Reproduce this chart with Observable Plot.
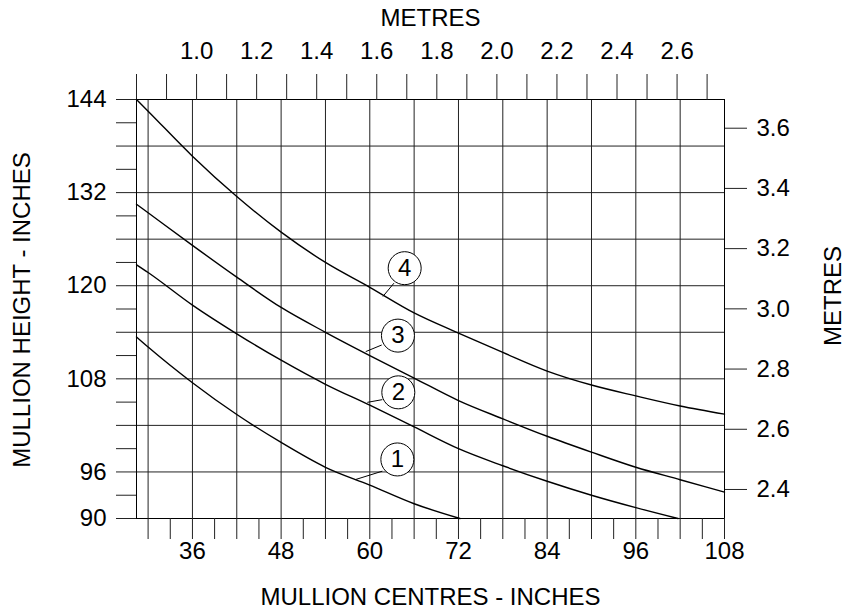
<!DOCTYPE html>
<html>
<head>
<meta charset="utf-8">
<script src="https://cdn.jsdelivr.net/npm/d3@7"></script>
<script src="https://cdn.jsdelivr.net/npm/@observablehq/plot@0.6"></script>
<style>
  html, body { margin: 0; padding: 0; background: #fff; }
  svg { font-family: "Liberation Sans", Arial, sans-serif; }
</style>
</head>
<body>
<div id="chart"></div>
<script>
// ---- data ----
const curve1X = [28.43, 30, 36, 42, 48, 54, 60, 66, 72.2];
const curve1Y = [113.4, 112.1, 107.5, 103.4, 99.8, 96.6, 94.3, 91.9, 90];
const curve2X = [28.43, 30, 36, 42, 48, 54, 60, 66, 72, 78, 84, 90, 96, 101.7];
const curve2Y = [122.7, 121.7, 117.5, 113.8, 110.4, 107.3, 104.6, 101.8, 99.0, 96.8, 94.8, 93.0, 91.4, 90];
const curve3X = [28.43, 30, 36, 42, 48, 54, 60, 66, 72, 78, 84, 90, 96, 102, 108];
const curve3Y = [130.5, 129.4, 125.2, 121.1, 117.2, 114.0, 111.0, 108.1, 105.2, 102.85, 100.6, 98.55, 96.6, 95.0, 93.4];
const curve4X = [28.43, 30, 36, 42, 48, 54, 60, 66, 72, 78, 84, 90, 96, 102, 108];
const curve4Y = [144, 142.5, 136.7, 131.5, 126.9, 123.0, 119.8, 116.5, 113.9, 111.4, 109.0, 107.2, 105.8, 104.5, 103.45];

const curveNames = ["1", "2", "3", "4"];
// label bubble centre and leader line (data coordinates)
const bubbleX = [63.73, 63.86, 63.81, 64.72];
const bubbleY = [97.61, 106.26, 113.57, 122.26];
const leaderX1 = [61.7, 61.7, 61.61, 63.27];
const leaderY1 = [96.1, 105.32, 112.36, 120.33];
const leaderX2 = [58.0, 59.67, 59.45, 61.78];
const leaderY2 = [95.0, 104.97, 111.51, 118.62];

// axes
const xDomain = [28.43, 108];
const yDomain = [90, 144];
const bottomTicks = d3.range(30, 108.1, 3);
const bottomLabels = [36, 48, 60, 72, 84, 96, 108];
const xGrid = d3.range(30, 108.1, 6);
const leftTicks = d3.range(90, 144.1, 3);
const leftLabels = [144, 132, 120, 108, 96, 90];
const yGrid = d3.range(90, 144.1, 6);
const topMetreTicks = d3.range(8, 27.1, 1).map(d => d / 10);
const topMetreLabels = [1.0, 1.2, 1.4, 1.6, 1.8, 2.0, 2.2, 2.4, 2.6];
const rightMetreLabels = [2.4, 2.6, 2.8, 3.0, 3.2, 3.4, 3.6];

// metre scales as drawn in the picture (mapped onto inch positions)
const topM0 = 0.8, topIn0 = 28.43, topInPerM = 40.64;
const rightM0 = 2.4, rightIn0 = 93.74, rightInPerM = 38.8;
const topToIn = m => topIn0 + (m - topM0) * topInPerM;
const rightToIn = m => rightIn0 + (m - rightM0) * rightInPerM;

const curves = [
  curve1X.map((x, i) => ({x, y: curve1Y[i], c: "1"})),
  curve2X.map((x, i) => ({x, y: curve2Y[i], c: "2"})),
  curve3X.map((x, i) => ({x, y: curve3Y[i], c: "3"})),
  curve4X.map((x, i) => ({x, y: curve4Y[i], c: "4"}))
].flat();

const bubbles = curveNames.map((n, i) => ({
  n, x: bubbleX[i], y: bubbleY[i],
  x1: leaderX1[i], y1: leaderY1[i], x2: leaderX2[i], y2: leaderY2[i]
}));

const FS = 24;
const ink = "#000";
const mid = {lineAnchor: "middle"};

const chart = Plot.plot({
  width: 859,
  height: 614,
  marginLeft: 136,
  marginRight: 135,
  marginTop: 99,
  marginBottom: 96,
  x: {domain: xDomain},
  y: {domain: yDomain},
  style: {fontFamily: "'Liberation Sans', Arial, sans-serif", color: ink, background: "#fff"},
  marks: [
    Plot.ruleX(xGrid, {stroke: "#222", strokeWidth: 1}),
    Plot.ruleY(yGrid, {stroke: "#222", strokeWidth: 1}),
    Plot.frame({stroke: ink, strokeWidth: 1}),
    // bottom axis
    Plot.axisX({anchor: "bottom", ticks: bottomTicks, tickSize: 21, tickFormat: () => "", stroke: "#222", label: null}),
    Plot.text(bottomLabels, {x: d => d, frameAnchor: "bottom", dy: 33, ...mid, textAnchor: "middle", text: d => String(d), fontSize: FS, fill: ink}),
    // left axis
    Plot.axisY({anchor: "left", ticks: leftTicks, tickSize: 20, tickFormat: () => "", stroke: "#222", label: null}),
    Plot.text(leftLabels, {y: d => d, frameAnchor: "left", dx: -30, ...mid, textAnchor: "end", text: d => String(d), fontSize: FS, fill: ink}),
    // top axis (metres)
    Plot.axisX({anchor: "top", ticks: topMetreTicks.map(topToIn), tickSize: 26, tickFormat: () => "", stroke: "#222", label: null}),
    Plot.text(topMetreLabels, {x: topToIn, frameAnchor: "top", dy: -48, ...mid, textAnchor: "middle", text: d => d.toFixed(1), fontSize: FS, fill: ink}),
    // right axis (metres)
    Plot.axisY({anchor: "right", ticks: rightMetreLabels.map(rightToIn), tickSize: 22, tickFormat: () => "", stroke: "#222", label: null}),
    Plot.text(rightMetreLabels, {y: rightToIn, frameAnchor: "right", dx: 32, ...mid, textAnchor: "start", text: d => d.toFixed(1), fontSize: FS, fill: ink}),
    // axis titles
    Plot.text(["METRES"], {frameAnchor: "top", dy: -81, ...mid, textAnchor: "middle", fontSize: FS, fill: ink}),
    Plot.text(["MULLION CENTRES - INCHES"], {frameAnchor: "bottom", dy: 79, ...mid, textAnchor: "middle", fontSize: FS, fill: ink}),
    Plot.text(["MULLION HEIGHT - INCHES"], {frameAnchor: "left", dx: -114, dy: 1, ...mid, textAnchor: "middle", rotate: -90, fontSize: FS, fill: ink}),
    Plot.text(["METRES"], {frameAnchor: "right", dx: 109, dy: -13, ...mid, textAnchor: "middle", rotate: -90, fontSize: FS, fill: ink}),
    // curves
    Plot.line(curves, {x: "x", y: "y", z: "c", stroke: ink, strokeWidth: 1.4, curve: "monotone-x"}),
    // labels
    Plot.link(bubbles, {x1: "x1", y1: "y1", x2: "x2", y2: "y2", stroke: ink, strokeWidth: 1}),
    Plot.dot(bubbles, {x: "x", y: "y", r: 16.5, fill: "white", stroke: ink, strokeWidth: 1}),
    Plot.text(bubbles, {x: "x", y: "y", text: "n", ...mid, fontSize: FS, fill: ink})
  ]
});

document.getElementById("chart").appendChild(chart);
</script>
</body>
</html>
